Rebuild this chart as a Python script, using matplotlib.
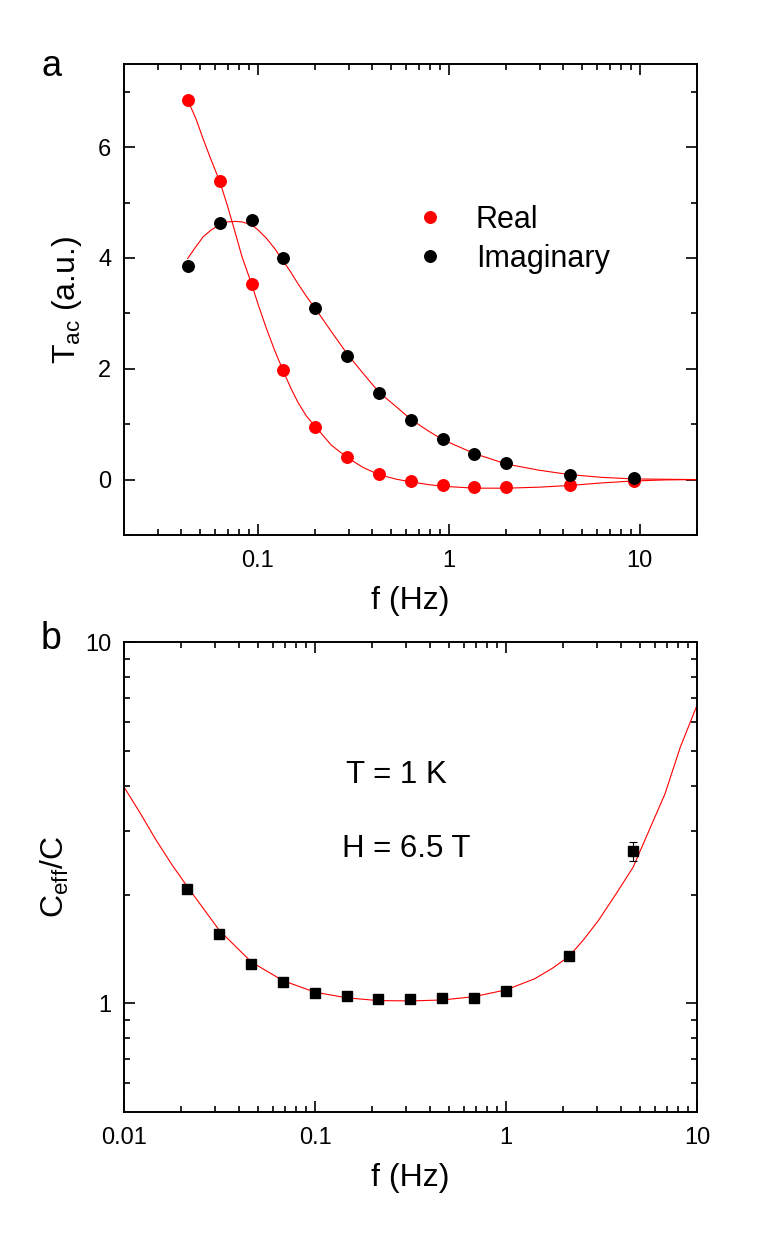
import matplotlib
matplotlib.use("Agg")
import matplotlib.pyplot as plt
from matplotlib.ticker import LogLocator, FixedLocator, NullFormatter, FixedFormatter

plt.rcParams['font.family'] = ['Liberation Sans', 'DejaVu Sans']
plt.rcParams['mathtext.default'] = 'regular'

# ---- panel a data ----
f_a = [0.0431, 0.0633, 0.0931, 0.136, 0.2005, 0.2946, 0.4315, 0.634, 0.933, 1.366, 2.01, 4.31, 9.31]
real_a = [6.85, 5.39, 3.53, 1.97, 0.945, 0.40, 0.093, -0.03, -0.106, -0.137, -0.13, -0.106, -0.03]
imag_a = [3.85, 4.63, 4.68, 3.99, 3.10, 2.23, 1.57, 1.08, 0.73, 0.47, 0.30, 0.08, 0.03]

fit_f = [0.0431, 0.0475, 0.0519, 0.057, 0.0633, 0.0695, 0.0758, 0.083, 0.0931, 0.101,
         0.111, 0.123, 0.136, 0.149, 0.1625, 0.18, 0.2005, 0.2437,
         0.2946, 0.3565, 0.4315, 0.5346, 0.634, 0.782, 0.933, 1.366, 2.01, 2.97,
         4.31, 6.36, 9.31, 13.6, 20.1]
fit_real = [6.85, 6.52, 6.15, 5.78, 5.39, 4.95, 4.5, 4.02, 3.53, 3.15,
            2.74, 2.33, 1.97, 1.66, 1.40, 1.15, 0.96, 0.62,
            0.40, 0.22, 0.09, 0.006, -0.04, -0.09, -0.12, -0.155, -0.155, -0.137,
            -0.106, -0.06, -0.025, -0.006, 0.0]
fit_imag = [3.99, 4.2, 4.38, 4.5, 4.6, 4.65, 4.66, 4.65, 4.6, 4.5,
            4.36, 4.17, 3.95, 3.75, 3.54, 3.31, 3.09, 2.67,
            2.27, 1.92, 1.58, 1.31, 1.09, 0.88, 0.72, 0.47, 0.28, 0.17,
            0.09, 0.04, 0.012, 0.006, 0.0]

# ---- panel b data ----
f_b = [0.0215, 0.0316, 0.0465, 0.068, 0.1, 0.147, 0.215, 0.316, 0.464, 0.68, 1.0, 2.14, 4.63]
ceff = [2.07, 1.556, 1.285, 1.148, 1.068, 1.046, 1.028, 1.028, 1.032, 1.032, 1.08, 1.349, 2.64]
ceff_err = [0, 0, 0, 0, 0, 0, 0, 0, 0, 0, 0, 0, 0.16]

fitb_f = [0.01, 0.0122, 0.0146, 0.0178, 0.0215, 0.0316, 0.0465, 0.068, 0.1, 0.147, 0.215, 0.316,
          0.464, 0.68, 1.0, 1.409, 1.75, 2.14, 2.55, 3.045, 3.75, 4.63, 5.6, 6.8, 8.18, 10.0]
fitb_c = [3.97, 3.35, 2.85, 2.42, 2.10, 1.59, 1.30, 1.155, 1.073, 1.035, 1.017, 1.015,
          1.021, 1.043, 1.089, 1.168, 1.25, 1.349, 1.50, 1.694, 2.0, 2.38, 3.0, 3.80, 5.12, 6.68]

fig = plt.figure(figsize=(7.63, 12.36), dpi=100)
W, H = 763, 1236

def add_ax(l, t, r, b):
    return fig.add_axes([l / W, 1 - b / H, (r - l) / W, (b - t) / H])

ax1 = add_ax(124, 64, 697, 535)
ax2 = add_ax(124, 642, 697, 1112)

for ax in (ax1, ax2):
    for s in ax.spines.values():
        s.set_linewidth(1.4)
    ax.tick_params(which='both', direction='in', top=True, right=True, width=1.2, labelsize=17)
    ax.tick_params(which='major', length=8)
    ax.tick_params(which='minor', length=4)
    ax.tick_params(axis='x', which='major', pad=11)
    ax.tick_params(axis='y', which='major', pad=9)

# panel a
ax1.set_xscale('log')
ax1.plot(fit_f, fit_real, color='red', lw=0.8, zorder=2)
ax1.plot(fit_f, fit_imag, color='red', lw=0.8, zorder=2)
ax1.plot(f_a, real_a, 'o', color='red', ms=8.3, mec='red', zorder=3, label='Real')
ax1.plot(f_a, imag_a, 'o', color='black', ms=8.3, zorder=3, label='Imaginary')
ax1.set_xlim(0.02, 20)
ax1.set_ylim(-1, 7.5)
ax1.set_yticks([0, 2, 4, 6])
ax1.yaxis.set_minor_locator(FixedLocator([-1, 1, 3, 5, 7]))
ax1.xaxis.set_major_locator(FixedLocator([0.1, 1, 10]))
ax1.xaxis.set_major_formatter(FixedFormatter(['0.1', '1', '10']))
ax1.xaxis.set_minor_locator(LogLocator(base=10, subs=range(2, 10)))
ax1.xaxis.set_minor_formatter(NullFormatter())
ax1.set_xlabel('f (Hz)', fontsize=23, labelpad=10)
ax1.set_ylabel('T$_{ac}$ (a.u.)', fontsize=23, labelpad=10)
leg = ax1.legend(loc='center left', bbox_to_anchor=(0.446, 0.628), frameon=False,
                 fontsize=22, handletextpad=0.75, labelspacing=0.3, handlelength=1.5)
fig.text(52 / W, 1 - 67 / H, 'a', fontsize=26, ha='center', va='center')

# panel b
ax2.set_xscale('log')
ax2.set_yscale('log')
ax2.plot(fitb_f, fitb_c, color='red', lw=0.8, zorder=2)
ax2.errorbar(f_b, ceff, yerr=ceff_err, fmt='s', color='black', ms=7,
             capsize=3, elinewidth=0.8, capthick=0.8, zorder=3)
ax2.set_xlim(0.01, 10)
ax2.set_ylim(0.5, 10)
ax2.xaxis.set_major_locator(FixedLocator([0.01, 0.1, 1, 10]))
ax2.xaxis.set_major_formatter(FixedFormatter(['0.01', '0.1', '1', '10']))
ax2.xaxis.set_minor_locator(LogLocator(base=10, subs=range(2, 10)))
ax2.xaxis.set_minor_formatter(NullFormatter())
ax2.yaxis.set_major_locator(FixedLocator([1, 10]))
ax2.yaxis.set_major_formatter(FixedFormatter(['1', '10']))
ax2.yaxis.set_minor_locator(LogLocator(base=10, subs=range(2, 10)))
ax2.yaxis.set_minor_formatter(NullFormatter())
ax2.set_xlabel('f (Hz)', fontsize=23, labelpad=10)
ax2.set_ylabel('C$_{eff}$/C', fontsize=23, labelpad=10)
ax2.text(0.475, 0.718, 'T = 1 K', transform=ax2.transAxes, fontsize=22.5, ha='center', va='center')
ax2.text(0.492, 0.56, 'H = 6.5 T', transform=ax2.transAxes, fontsize=22.5, ha='center', va='center')
fig.text(51 / W, 1 - 639 / H, 'b', fontsize=27, ha='center', va='center')

fig.savefig('out.png', dpi=100)
